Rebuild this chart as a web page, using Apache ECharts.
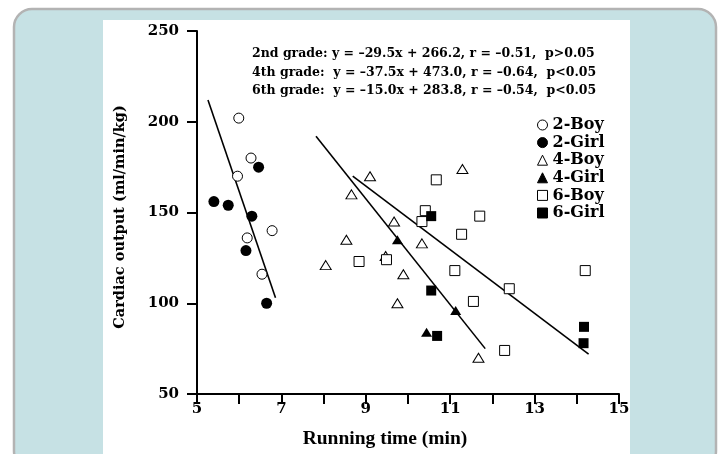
<!DOCTYPE html>
<html><head><meta charset="utf-8">
<script src="https://cdn.jsdelivr.net/npm/echarts@6/dist/echarts.min.js"></script>
<style>html,body{margin:0;padding:0;background:#fff}#c{width:723px;height:454px}</style>
</head><body><div id="c"></div>
<script>
// Data (x = running time in min, y = cardiac output in ml/min/kg)
var boy2  = [[5.99,202],[6.28,180],[5.96,170],[6.19,136],[6.78,140],[6.54,116]];
var girl2 = [[5.40,156],[5.74,154],[6.46,175],[6.30,148],[6.16,129],[6.65,100]];
var boy4  = [[9.10,170],[8.66,160],[11.29,174],[9.67,145],[8.54,135],[10.33,133],[9.47,126],[8.05,121],[9.89,116],[9.75,100],[11.67,70]];
var girl4 = [[9.75,135],[11.13,96],[10.44,84]];
var boy6  = [[10.67,168],[10.41,151],[10.33,145],[11.70,148],[11.27,138],[8.84,123],[9.49,124],[11.11,118],[14.20,118],[12.40,108],[11.55,101],[12.29,74]];
var girl6 = [[10.55,148],[10.55,107],[10.69,82],[14.17,87],[14.16,78]];
var fit2 = [[5.26,212],[6.86,103]];
var fit4 = [[7.82,192],[11.83,75]];
var fit6 = [[8.69,170],[14.28,72]];
var seriesNames = ['2-Boy','2-Girl','4-Boy','4-Girl','6-Boy','6-Girl'];
var equations = [
  '2nd grade: y = \u201329.5x + 266.2, r = \u20130.51,  p>0.05',
  '4th grade:  y = \u201337.5x + 473.0, r = \u20130.64,  p<0.05',
  '6th grade:  y = \u201315.0x + 283.8, r = \u20130.54,  p<0.05'
];
var xTitle = 'Running time (min)';
var yTitle = 'Cardiac output (ml/min/kg)';

var FONT = '"DejaVu Serif","Liberation Serif",serif';
var TFONT = '"Liberation Serif","DejaVu Serif",serif';
var chart = echarts.init(document.getElementById('c'), null, {renderer:'canvas'});

function sc(name, data, symbol, size, filled){
  return {
    name: name, type: 'scatter', data: data, symbol: symbol, symbolSize: size, z: 5,
    itemStyle: filled ? {color:'#000', borderColor:'#000', borderWidth:0, opacity:1}
                      : {color:'#fff', borderColor:'#000', borderWidth:1, opacity:1},
    emphasis: {disabled:true}
  };
}
function fit(data){
  return {type:'line', data:data, symbol:'none', z:4, silent:true,
    lineStyle:{color:'#000', width:1.6}};
}

chart.setOption({
  animation: false,
  backgroundColor: '#fff',
  graphic: [
    {type:'rect', z:-10, shape:{x:14, y:9, width:702, height:460, r:18},
     style:{fill:'#c6e1e4', stroke:'#b3b3b3', lineWidth:2.5}},
    {type:'rect', z:-9, shape:{x:103, y:20, width:527, height:440},
     style:{fill:'#fff'}},
    {type:'text', left:252, top:44.5, z:10,
     style:{text: equations.join('\n'), font:'bold 12.5px ' + FONT, fill:'#000', lineHeight:18.6}}
  ],
  grid: {left:197, right:104, top:31, bottom:55},
  legend: {
    data: seriesNames, orient:'vertical', left:537, top:117, padding:0,
    itemWidth:10, itemHeight:10, itemGap:1.6,
    itemStyle:{borderWidth:1},
    textStyle:{fontFamily:FONT, fontWeight:'bold', fontSize:16, lineHeight:14, color:'#000'},
    selectedMode:false
  },
  xAxis: {
    type:'value', min:5, max:15, interval:1,
    name: xTitle, nameLocation:'middle', nameGap:35,
    nameTextStyle:{fontFamily:TFONT, fontWeight:'bold', fontSize:19.5, color:'#000', padding:[0,46,0,0]},
    axisLine:{show:true, onZero:false, lineStyle:{color:'#000', width:2}},
    axisTick:{show:true, inside:false, length:10, lineStyle:{color:'#000', width:2}},
    axisLabel:{fontFamily:FONT, fontWeight:'bold', fontSize:15, color:'#000', margin:8,
      formatter:function(v){return (v % 2 === 1) ? String(v) : '';}},
    splitLine:{show:false}
  },
  yAxis: {
    type:'value', min:50, max:250, interval:50,
    name: yTitle, nameLocation:'middle', nameGap:69, nameRotate:90,
    nameTextStyle:{fontFamily:FONT, fontWeight:'bold', fontSize:14.5, color:'#000', padding:[0,9,0,0]},
    axisLine:{show:true, onZero:false, lineStyle:{color:'#000', width:2}},
    axisTick:{show:true, inside:false, length:10, lineStyle:{color:'#000', width:2}},
    axisLabel:{fontFamily:FONT, fontWeight:'bold', fontSize:15, color:'#000', margin:18},
    splitLine:{show:false}
  },
  series: [
    sc(seriesNames[0], boy2, 'circle', 10, false),
    sc(seriesNames[1], girl2, 'circle', 11, true),
    sc(seriesNames[2], boy4, 'triangle', [11,9], false),
    sc(seriesNames[3], girl4, 'triangle', [11,9], true),
    sc(seriesNames[4], boy6, 'rect', 10, false),
    sc(seriesNames[5], girl6, 'rect', 10, true),
    fit(fit2), fit(fit4), fit(fit6)
  ]
});
</script></body></html>
